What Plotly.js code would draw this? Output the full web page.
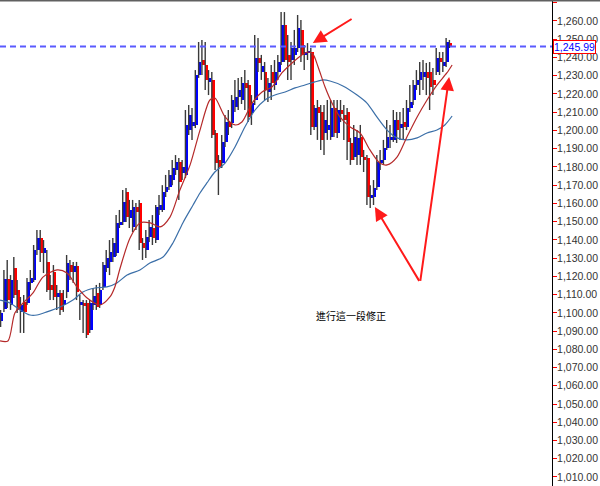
<!DOCTYPE html>
<html>
<head>
<meta charset="utf-8">
<script src="https://cdn.plot.ly/plotly-3.0.1.min.js"></script>
<style>html,body{margin:0;padding:0;background:#fff;}#chart{width:600px;height:486px;}</style>
</head>
<body>
<div id="chart"></div>
<script>
// ---- candle data (index = bar number) ----
const openP = [1095.5,1102.1,1118.6,1104.3,1124.6,1112.5,1100.5,1106.0,1105.4,1116.4,
1118.0,1134.4,1141.0,1132.8,1127.9,1115.3,1122.4,1108.7,1110.9,1104.3,
1111.4,1126.2,1122.4,1125.7,1104.3,1105.4,1105.4,1090.6,1104.3,1110.9,
1104.3,1114.2,1124.6,1127.9,1130.6,1132.8,1148.2,1149.8,1166.3,1152.0,
1147.1,1158.0,1160.2,1138.3,1134.4,1141.6,1146.5,1139.9,1156.4,1156.4,
1166.3,1169.0,1172.8,1178.3,1182.7,1176.7,1175.6,1200.2,1202.4,1203.0,
1230.4,1238.6,1235.9,1226.6,1227.7,1198.6,1183.8,1182.1,1193.7,1204.6,
1204.1,1212.9,1218.3,1216.7,1226.0,1224.9,1209.6,1216.7,1239.7,1232.0,
1232.0,1221.1,1232.0,1224.9,1232.0,1237.5,1257.8,1241.4,1238.6,1241.4,
1245.2,1255.1,1241.4,1242.5,1243.0,1201.9,1212.9,1210.1,1198.6,1200.2,
1196.4,1212.3,1198.6,1211.2,1208.5,1210.1,1193.1,1185.4,1186.5,1196.4,
1185.4,1184.9,1163.0,1163.5,1169.0,1182.1,1183.8,1190.4,1194.8,1194.8,
1205.7,1201.3,1204.6,1201.9,1212.3,1216.7,1224.9,1227.7,1229.3,1232.0,
1232.0,1227.7,1232.0,1239.7,1235.3,1237.5,1247.9];
const highP = [1101.6,1123.5,1129.0,1120.7,1130.6,1118.0,1108.7,1109.8,1119.1,1123.5,
1137.2,1145.4,1145.4,1139.9,1134.4,1120.7,1126.2,1115.3,1112.5,1112.5,
1131.7,1129.0,1127.9,1127.9,1109.8,1107.0,1107.0,1107.0,1113.6,1115.3,
1116.4,1127.9,1134.4,1139.9,1141.0,1153.6,1156.4,1167.3,1168.4,1161.9,
1161.9,1160.2,1161.9,1141.0,1145.4,1150.9,1153.6,1159.1,1164.6,1170.0,
1175.6,1178.3,1183.8,1186.5,1184.9,1183.8,1211.2,1213.9,1212.3,1233.1,
1248.5,1249.6,1248.5,1233.1,1232.0,1200.2,1186.5,1197.5,1208.5,1211.2,
1219.4,1227.7,1228.8,1229.3,1233.1,1227.7,1219.4,1252.3,1250.7,1241.4,
1237.5,1228.8,1235.9,1238.6,1241.4,1264.9,1264.9,1252.3,1248.5,1255.1,
1263.3,1260.6,1246.8,1247.9,1245.2,1213.9,1216.7,1213.9,1213.9,1216.7,
1216.7,1216.7,1216.7,1216.7,1213.9,1212.3,1195.9,1203.0,1200.2,1203.0,
1189.3,1186.5,1170.0,1172.8,1186.5,1189.3,1194.8,1205.7,1203.0,1211.2,
1210.1,1210.1,1212.3,1216.7,1224.9,1227.7,1233.1,1237.5,1238.6,1237.0,
1237.5,1234.2,1245.2,1243.0,1243.0,1250.7,1249.6];
const lowP = [1092.2,1100.5,1102.7,1101.6,1108.1,1099.9,1089.0,1089.0,1104.3,1112.5,
1116.9,1131.7,1127.9,1121.8,1111.4,1107.0,1107.0,1101.6,1098.8,1100.5,
1108.1,1118.0,1116.4,1107.0,1096.1,1089.0,1086.2,1089.0,1101.6,1101.6,
1102.7,1112.5,1122.4,1120.7,1127.9,1131.2,1146.5,1148.2,1149.8,1146.5,
1144.3,1145.4,1134.4,1129.0,1130.1,1138.8,1137.2,1138.3,1153.6,1155.3,
1163.5,1167.3,1170.0,1175.6,1161.9,1172.8,1173.9,1197.5,1194.8,1201.3,
1228.8,1230.4,1222.2,1219.4,1195.9,1178.3,1164.6,1179.4,1190.9,1197.5,
1201.3,1210.1,1211.2,1214.5,1211.2,1204.6,1203.0,1213.9,1232.0,1227.7,
1216.7,1215.6,1216.7,1222.2,1227.7,1235.9,1237.5,1227.7,1227.7,1235.9,
1243.0,1237.5,1233.1,1238.6,1197.5,1200.2,1194.8,1189.3,1186.5,1194.8,
1194.8,1196.4,1195.9,1204.6,1194.8,1183.8,1181.1,1183.8,1181.1,1181.1,
1177.2,1159.1,1157.5,1159.1,1167.3,1178.3,1181.1,1189.3,1190.4,1193.7,
1193.1,1194.8,1194.8,1200.2,1210.1,1213.9,1222.2,1219.4,1222.2,1219.4,
1211.2,1219.4,1230.4,1230.4,1232.0,1234.8,1245.2];
const closeP = [1099.9,1118.6,1107.0,1118.0,1109.8,1101.6,1104.3,1100.5,1116.9,1119.1,
1134.4,1141.0,1132.8,1135.5,1112.5,1112.5,1108.7,1110.9,1101.6,1107.0,
1127.3,1122.4,1125.7,1111.4,1106.0,1103.8,1087.9,1105.4,1109.2,1103.2,
1112.5,1126.2,1130.1,1133.3,1138.3,1149.3,1149.8,1160.8,1152.5,1156.4,
1158.0,1155.3,1138.3,1135.5,1141.6,1147.1,1141.0,1158.0,1159.1,1166.3,
1169.0,1175.6,1179.4,1182.7,1171.7,1180.0,1203.0,1208.5,1204.6,1230.4,
1237.5,1235.9,1227.7,1228.8,1197.5,1182.1,1180.0,1193.7,1204.6,1201.9,
1216.7,1218.3,1222.2,1226.0,1223.3,1207.4,1215.0,1239.7,1237.0,1235.3,
1222.2,1226.0,1226.0,1232.0,1237.5,1257.8,1238.6,1237.5,1245.2,1245.2,
1256.2,1241.4,1243.0,1243.6,1201.9,1212.3,1209.6,1194.8,1205.7,1203.0,
1212.3,1198.6,1211.2,1209.0,1205.7,1193.7,1183.8,1196.4,1195.9,1185.4,
1183.8,1163.5,1164.6,1168.4,1182.7,1183.8,1190.4,1196.4,1196.4,1205.7,
1200.2,1203.5,1201.9,1212.3,1215.6,1224.9,1227.7,1232.0,1232.0,1228.8,
1223.8,1224.9,1239.7,1237.5,1237.5,1248.5,1245.99];

// ---- moving averages (bar position, price) ----
const maFastX = [-0.6,1.8,3.9,6.4,9.4,12.4,16.7,19.7,22.7,25.8,29.7,32.7,34.2,35.8,38.8,41.8,44.9,47.9,50.9,53.9,57.0,60.0,63.0,64.5,67.6,70.6,72.7,75.8,78.8,81.8,84.8,87.9,90.9,92.7,94.2,95.8,97.9,100.0,102.4,105.5,108.5,111.5,114.5,116.7,119.7,122.7,125.8,128.8,131.8,134.8,136.4];
const maFast = [1084.6,1084.6,1099.9,1105.4,1110.9,1119.6,1123.5,1121.8,1114.2,1108.1,1104.3,1108.7,1114.2,1124.6,1141.0,1149.3,1149.3,1147.1,1152.5,1167.3,1181.1,1200.2,1216.7,1217.8,1207.4,1203.0,1204.6,1215.0,1221.1,1223.8,1231.5,1237.0,1241.4,1243.0,1241.9,1234.8,1223.8,1215.0,1207.4,1201.9,1198.6,1189.3,1182.1,1181.1,1185.4,1196.4,1207.4,1216.7,1224.9,1231.5,1235.9];
const maSlowX = [-0.6,2.4,5.5,8.5,10.6,13.6,17.6,21.5,24.5,28.2,31.8,34.8,37.9,41.8,44.8,48.8,51.8,54.8,57.9,60.0,62.1,64.5,67.6,70.6,73.6,76.7,79.7,82.7,85.8,88.8,91.8,94.8,97.3,99.4,103.3,107.6,110.6,113.6,116.7,119.7,122.7,125.8,128.8,131.8,134.2,136.4];
const maSlow = [1107.0,1105.4,1101.6,1098.8,1098.8,1100.5,1103.2,1107.0,1111.4,1113.6,1114.2,1116.4,1120.7,1123.5,1127.3,1130.6,1138.3,1149.3,1159.1,1165.7,1171.2,1177.2,1182.1,1190.9,1201.9,1211.2,1216.7,1219.4,1221.1,1223.3,1224.9,1226.6,1227.7,1227.1,1224.4,1219.4,1215.0,1207.4,1200.2,1195.9,1194.8,1195.9,1198.6,1200.2,1203.0,1207.9];

const yTickStart = 1010, yTickEnd = 1260, yTickStep = 10;
const noteText = '進行這一段修正';

// ---- build traces ----
const idx = closeP.map((_, i) => i);
const bodyBase = openP.map((o, i) => Math.min(o, closeP[i]));
const bodyLen = openP.map((o, i) => Math.max(Math.abs(closeP[i] - o), 0.8));
const bodyCol = openP.map((o, i) => closeP[i] >= o ? '#0000ff' : '#ff0000');

const wickX = [], wickY = [];
idx.forEach(i => { wickX.push(i - 0.42, i - 0.42, null); wickY.push(lowP[i], highP[i], null); });

const lastPrice = closeP[closeP.length - 1];
const lastLabel = lastPrice.toLocaleString('en-US', {minimumFractionDigits: 2, maximumFractionDigits: 2});

const traces = [
  {type:'scatter', mode:'lines', x: wickX, y: wickY, line:{color:'#3a3a3a', width:1.4}, hoverinfo:'skip', showlegend:false},
  {type:'bar', x: idx, y: bodyLen, base: bodyBase, width: 0.85, marker:{color: bodyCol, line:{width:0}}, showlegend:false},
  {type:'scatter', mode:'lines', x: maSlowX, y: maSlow, line:{color:'#3b6fa8', width:1.2, shape:'spline', smoothing:0.8}, showlegend:false},
  {type:'scatter', mode:'lines', x: maFastX, y: maFast, line:{color:'#b52a2a', width:1.2, shape:'spline', smoothing:0.8}, showlegend:false}
];

const tailX = 126.7, tailY = 1116.7;
const arrowStyle = {showarrow:true, arrowhead:2, arrowsize:1.35, arrowwidth:2, arrowcolor:'#ff1a1a', axref:'x', ayref:'y', standoff:0, text:''};

const layout = {
  width: 600, height: 486,
  margin: {l:0, r:48, t:0, b:0, pad:0},
  paper_bgcolor:'#ffffff', plot_bgcolor:'#ffffff',
  showlegend:false, barmode:'overlay', bargap:0,
  xaxis: {range:[-0.606, 166.67], visible:false, fixedrange:true},
  yaxis: {side:'right', range:[1005.06, 1271.51], tickmode:'linear', tick0:yTickStart, dtick:yTickStep,
          tickformat:',.2f', ticks:'outside', ticklen:4, tickwidth:1, tickcolor:'#ff0000',
          ticklabelstandoff:-2,
          showline:true, linecolor:'#000000', linewidth:1, showgrid:false, zeroline:false,
          tickfont:{family:'Liberation Sans, Arial, sans-serif', size:10.5, color:'#333333'}},
  shapes: [
    {type:'line', xref:'paper', yref:'y', x0:0, x1:1, y0:lastPrice, y1:lastPrice, line:{color:'#5a5aff', width:2, dash:'6px,4px'}},
    {type:'line', xref:'paper', yref:'paper', x0:0, x1:1.09, y0:1, y1:1, line:{color:'#606060', width:3}}
  ],
  annotations: [
    Object.assign({x:94.2, y:1247.9, ax:106.4, ay:1261.6}, arrowStyle),
    Object.assign({x:113.0, y:1158.0, ax:tailX, ay:tailY}, arrowStyle),
    Object.assign({x:135.5, y:1229.3, ax:tailX, ay:tailY}, arrowStyle),
    {x:105.8, y:1098.8, xref:'x', yref:'y', text:noteText, showarrow:false,
     font:{family:'Noto Sans CJK TC, sans-serif', size:10, color:'#000000'}},
    {x:1, xref:'paper', xanchor:'left', xshift:1, y:lastPrice, yref:'y', yanchor:'middle', text:lastLabel, showarrow:false,
     bgcolor:'#ffffff', bordercolor:'#ff0000', borderwidth:1, borderpad:0,
     font:{family:'Liberation Sans, Arial, sans-serif', size:10.5, color:'#0000ff'}}
  ]
};

Plotly.newPlot('chart', traces, layout, {displayModeBar:false, staticPlot:true});
</script>
</body>
</html>
